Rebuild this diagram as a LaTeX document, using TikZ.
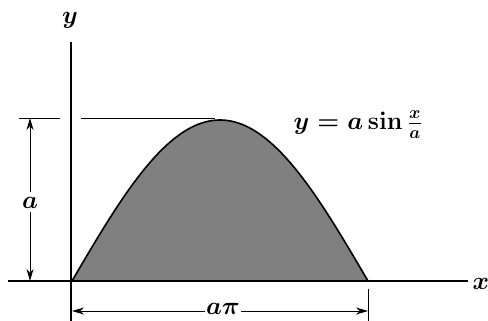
\documentclass[tikz,border=0pt]{standalone}
\usepackage{graphicx}
\usetikzlibrary{arrows.meta}
\newcommand{\biglbl}[1]{\scalebox{1.45}{\LARGE\boldmath$#1$}}
\begin{document}
\begin{tikzpicture}[x=1pt,y=-1pt,
  axis/.style={line width=1.3pt},
  dimline/.style={line width=0.9pt},
  dimarrow/.style={line width=0.9pt,-{Stealth[length=12pt,width=7pt]}},
  lbl/.style={inner sep=1pt}]
\useasboundingbox (0,0) rectangle (488,321);
% fill and curve
\fill[black!50] (72,281) -- plot[domain=0:180,samples=90,variable=\t] ({72+1.64444*\t},{281-161*sin(\t)}) -- cycle;
\draw[line width=1.6pt] plot[domain=0:180,samples=90,variable=\t] ({72+1.64444*\t},{281-161*sin(\t)});
% axes
\coordinate (xs) at (8,281);
\coordinate (xe) at (468,281);
\coordinate (ys) at (71,42);
\coordinate (ye) at (71,321);
\draw[axis] (xs) -- (xe);
\draw[axis] (ys) -- (ye);
\node[lbl] (xl) at (481,284) {\biglbl{x}};
\node[lbl] (yl) at (70,20) {\biglbl{y}};
% top extension lines
\coordinate (t1) at (19,118);
\coordinate (t2) at (60,118);
\coordinate (t3) at (81,118);
\coordinate (t4) at (215,118);
\draw[dimline] (t1) -- (t2);
\draw[dimline] (t3) -- (t4);
% vertical dimension a
\node[lbl] (la) at (30,203) {\biglbl{a}};
\coordinate (a1) at (30,118);
\coordinate (a2) at (30,281);
\draw[dimarrow] (la.north) ++(0,-4) -- (a1);
\draw[dimarrow] (la.south) ++(0,2) -- (a2);
% right tick
\coordinate (r1) at (368,289);
\coordinate (r2) at (368,321);
\draw[dimline] (r1) -- (r2);
% horizontal dimension a pi
\node[lbl] (lap) at (223,309) {\biglbl{a\pi}};
\coordinate (b1) at (72,311);
\coordinate (b2) at (368,311);
\draw[dimarrow] (lap.west |- b1) -- (b1);
\draw[dimarrow] (lap.east |- b2) -- (b2);
% equation
\node[lbl] (eq) at (358,125) {\biglbl{y = a\sin\frac{x}{a}}};
\end{tikzpicture}
\end{document}
